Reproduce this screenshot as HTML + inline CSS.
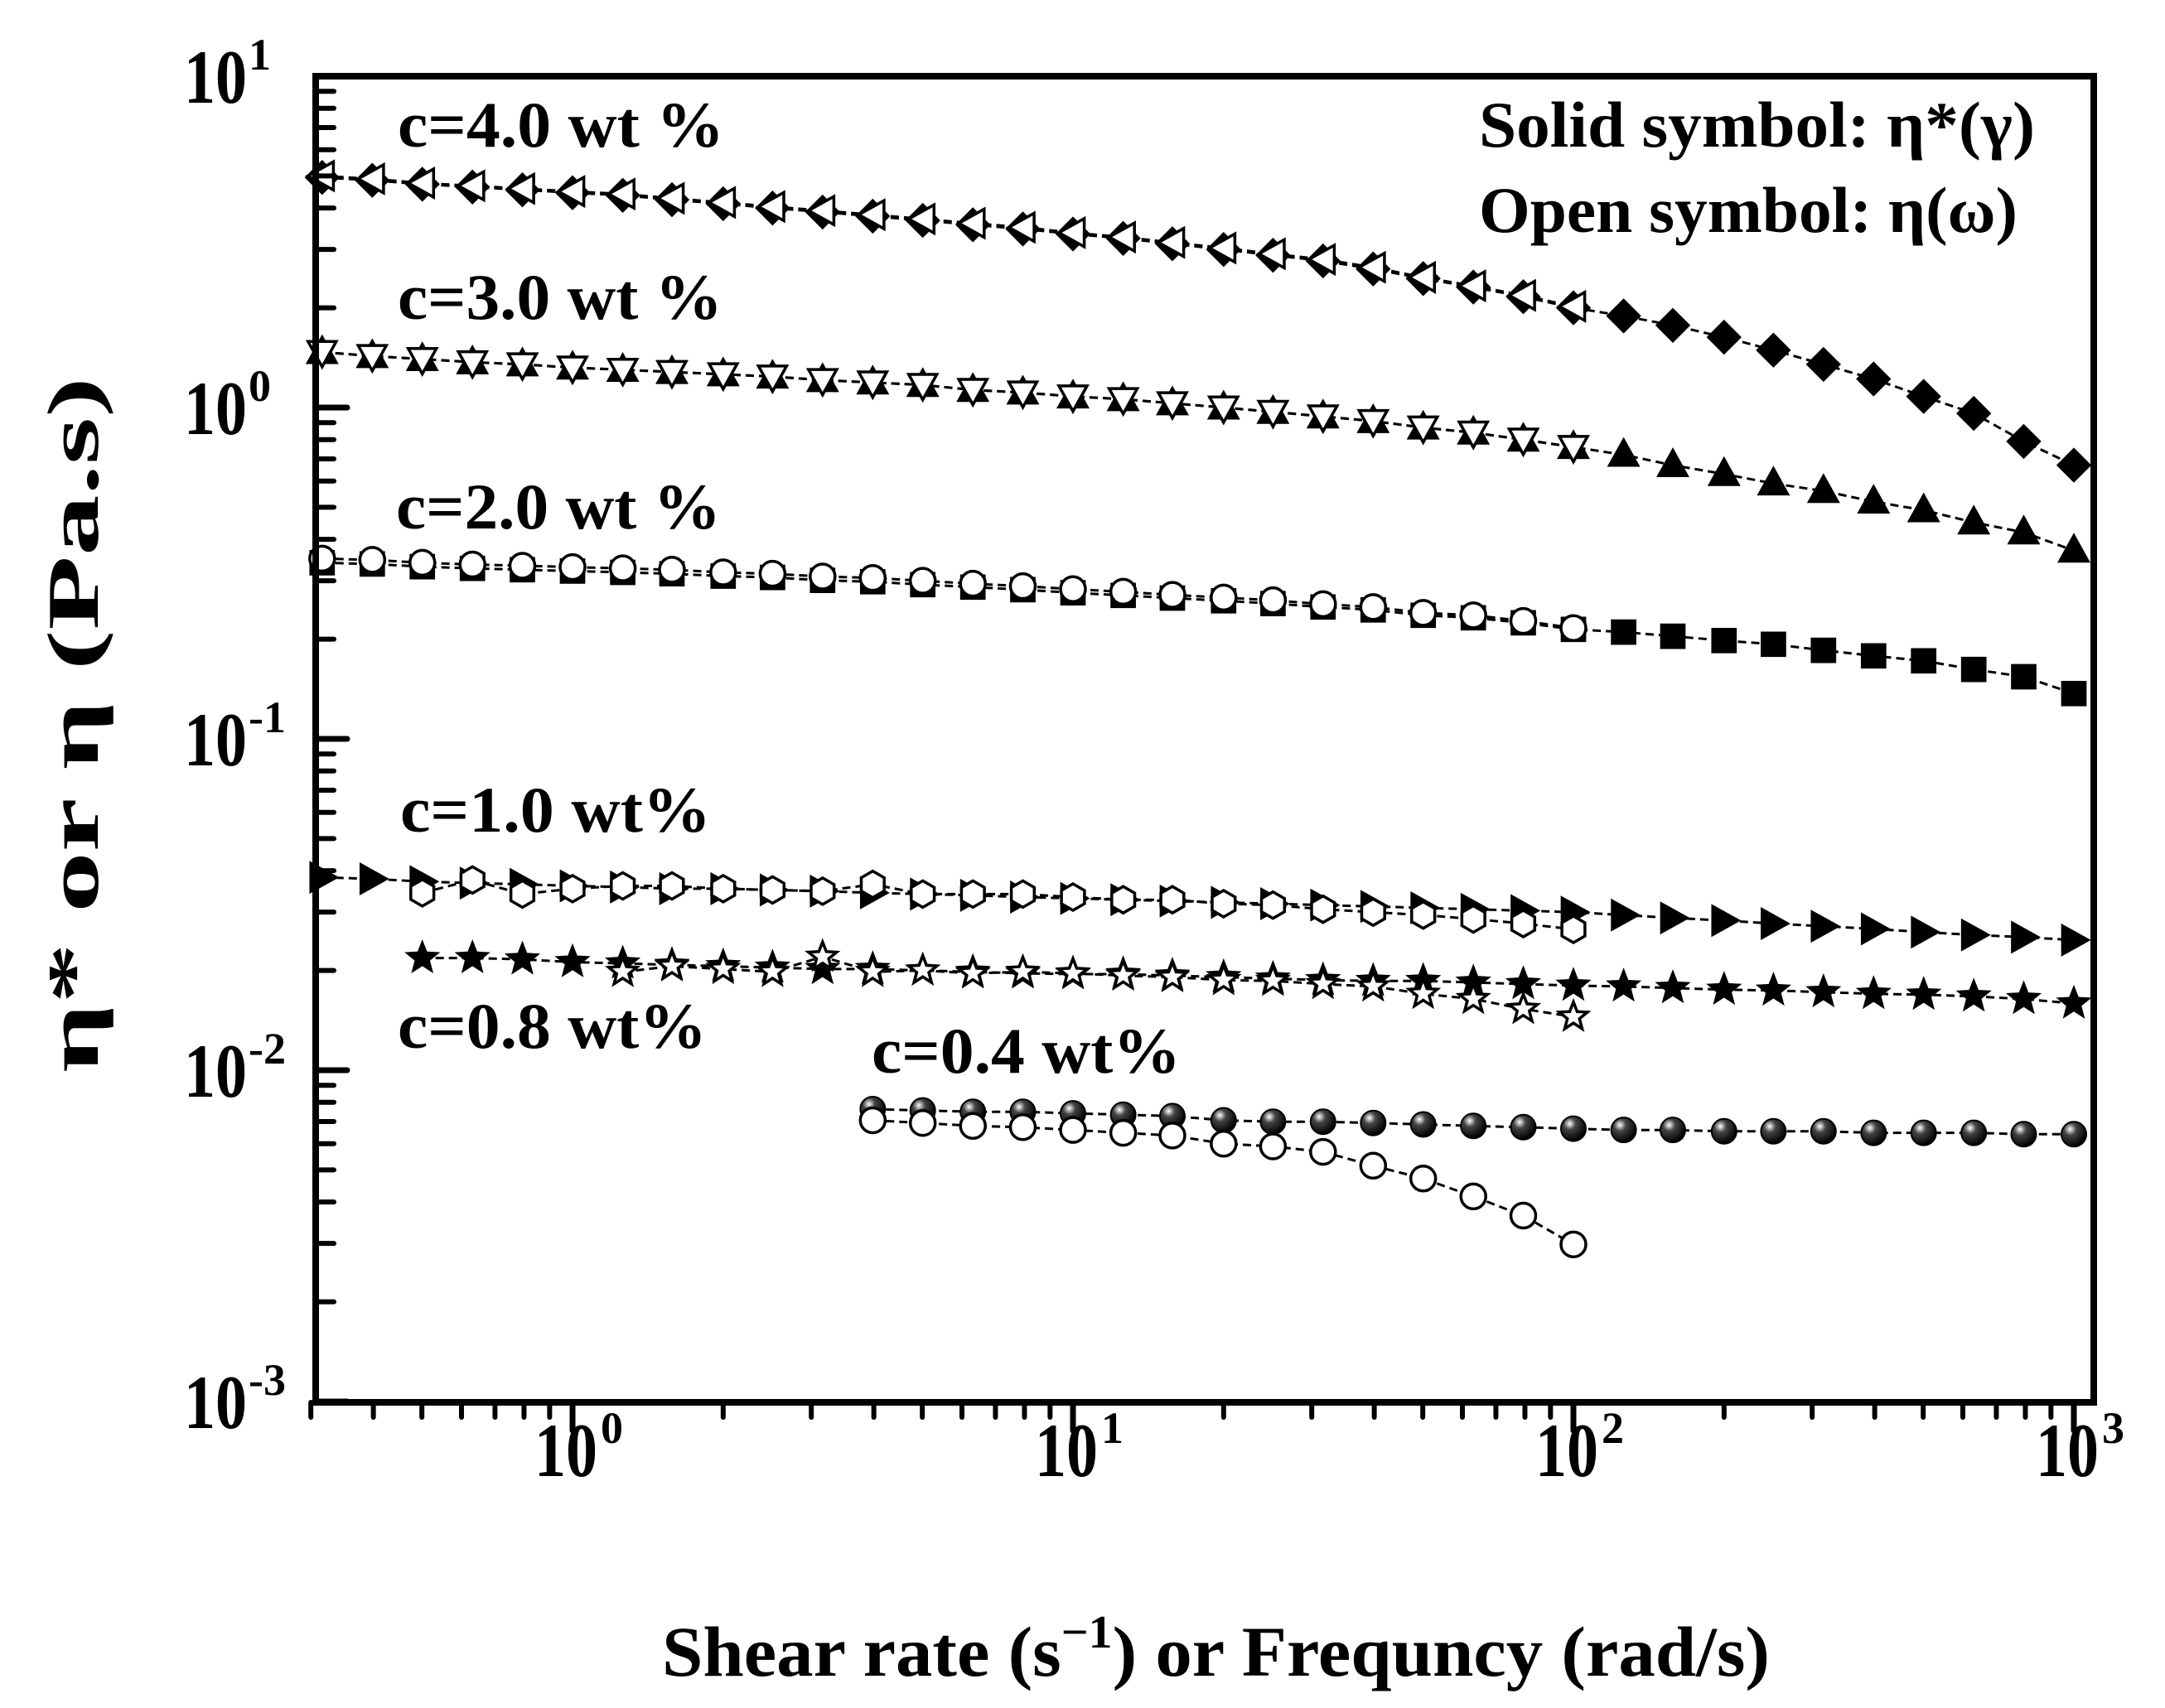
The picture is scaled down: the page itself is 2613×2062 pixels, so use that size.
<!DOCTYPE html>
<html><head><meta charset="utf-8"><style>
html,body{margin:0;padding:0;background:#fff;}
svg{display:block;font-family:"Liberation Serif","DejaVu Serif",serif;font-weight:bold;}
</style></head><body>
<svg id="chart" xmlns="http://www.w3.org/2000/svg" width="2613" height="2062" viewBox="0 0 2613 2062">
<defs>
<radialGradient id="ball" cx="0.35" cy="0.3" r="0.7"><stop offset="0" stop-color="#fff"/><stop offset="0.35" stop-color="#444"/><stop offset="1" stop-color="#000"/></radialGradient>
</defs>
<g id="series"></g>
<g id="axes"></g>
<g font-size="78">
<text x="480" y="177" textLength="394" lengthAdjust="spacingAndGlyphs">c=4.0 wt %</text>
<text x="480" y="385" textLength="392" lengthAdjust="spacingAndGlyphs">c=3.0 wt %</text>
<text x="478" y="638" textLength="392" lengthAdjust="spacingAndGlyphs">c=2.0 wt %</text>
<text x="483" y="1004" textLength="375" lengthAdjust="spacingAndGlyphs">c=1.0 wt%</text>
<text x="480" y="1265" textLength="373" lengthAdjust="spacingAndGlyphs">c=0.8 wt%</text>
<text x="1052" y="1295" textLength="373" lengthAdjust="spacingAndGlyphs">c=0.4 wt%</text>
<text x="1785" y="177" textLength="671" lengthAdjust="spacingAndGlyphs">Solid symbol: η*(γ)</text>
<text x="1785" y="280" textLength="650" lengthAdjust="spacingAndGlyphs">Open symbol: η(ω)</text>
</g>
<text x="799" y="2023" font-size="86" textLength="1337" lengthAdjust="spacingAndGlyphs">Shear rate (s<tspan font-size="56" dy="-34">−1</tspan><tspan dy="34">) or Frequncy (rad/s)</tspan></text>
<text transform="translate(118,875) rotate(-90)" text-anchor="middle" font-size="88" textLength="840" lengthAdjust="spacingAndGlyphs">η* or η (Pa.s)</text>
</svg>
<script>
const xFull = [0.316,0.398,0.501,0.631,0.794,1,1.26,1.58,2,2.51,3.16,3.98,5.01,6.31,7.94,10,12.6,15.8,20,25.1,31.6,39.8,50.1,63.1,79.4,100,126,158,200,251,316,398,501,631,794,1000];
const c4Open = [5.00,4.90,4.76,4.67,4.58,4.49,4.41,4.28,4.16,4.04,3.93,3.82,3.71,3.60,3.50,3.37,3.27,3.15,3.03,2.91,2.80,2.65,2.47,2.33,2.18,2.02];
const c4Solid = [4.95,4.85,4.72,4.63,4.54,4.45,4.37,4.24,4.12,4.00,3.89,3.78,3.67,3.56,3.46,3.34,3.24,3.12,3.00,2.88,2.77,2.62,2.45,2.31,2.16,2.00,1.89,1.77,1.63,1.49,1.35,1.22,1.08,0.96,0.79,0.67];
const c3Open = [1.47,1.43,1.40,1.37,1.35,1.32,1.30,1.28,1.26,1.24,1.21,1.19,1.17,1.13,1.11,1.08,1.06,1.03,1.00,0.97,0.94,0.91,0.87,0.84,0.80,0.76];
const c3Solid = [1.47,1.43,1.40,1.37,1.35,1.32,1.30,1.28,1.26,1.24,1.21,1.19,1.17,1.13,1.11,1.08,1.06,1.03,1.00,0.97,0.94,0.91,0.87,0.84,0.80,0.76,0.72,0.67,0.63,0.59,0.56,0.52,0.49,0.45,0.42,0.37];
const c2Open = [0.350,0.347,0.340,0.336,0.333,0.330,0.327,0.324,0.318,0.315,0.309,0.306,0.300,0.294,0.289,0.283,0.278,0.272,0.267,0.262,0.255,0.250,0.240,0.236,0.227,0.216];
const c2Solid = [0.340,0.337,0.331,0.327,0.324,0.321,0.318,0.315,0.310,0.307,0.301,0.298,0.292,0.287,0.282,0.276,0.271,0.266,0.261,0.256,0.250,0.245,0.236,0.232,0.224,0.214,0.210,0.204,0.198,0.193,0.185,0.178,0.172,0.162,0.154,0.137];
const c1Solid = [0.0382,0.0378,0.0371,0.0367,0.0364,0.0360,0.0357,0.0353,0.0353,0.0350,0.0347,0.0343,0.0340,0.0337,0.0333,0.0330,0.0327,0.0324,0.0321,0.0318,0.0315,0.0312,0.0309,0.0306,0.0303,0.0300,0.0294,0.0288,0.0283,0.0277,0.0272,0.0267,0.0261,0.0256,0.0252,0.0247];
const c1OpenX = [0.501,0.631,0.794,1,1.26,1.58,2,2.51,3.16,3.98,5.01,6.31,7.94,10,12.6,15.8,20,25.1,31.6,39.8,50.1,63.1,79.4,100];
const c1Open = [0.0343,0.0375,0.0340,0.0353,0.0360,0.0360,0.0353,0.0350,0.0347,0.0364,0.0340,0.0340,0.0340,0.0333,0.0327,0.0327,0.0318,0.0315,0.0306,0.0300,0.0294,0.0286,0.0277,0.0266];
const c08SolidX = [0.501,0.631,0.794,1,1.26,1.58,2,2.51,3.16,3.98,5.01,6.31,7.94,10,12.6,15.8,20,25.1,31.6,39.8,50.1,63.1,79.4,100,126,158,200,251,316,398,501,631,794,1000];
const c08Solid = [0.0218,0.0218,0.0216,0.0212,0.0210,0.0208,0.0206,0.0204,0.0202,0.0202,0.0200,0.0198,0.0196,0.0195,0.0195,0.0193,0.0191,0.0189,0.0187,0.0186,0.0186,0.0184,0.0182,0.0180,0.0179,0.0177,0.0175,0.0174,0.0172,0.0170,0.0169,0.0167,0.0164,0.0159];
const c08OpenX = [1.26,1.58,2,2.51,3.16,3.98,5.01,6.31,7.94,10,12.6,15.8,20,25.1,31.6,39.8,50.1,63.1,79.4,100];
const c08Open = [0.0198,0.0206,0.0202,0.0198,0.0220,0.0198,0.0200,0.0196,0.0198,0.0196,0.0193,0.0191,0.0187,0.0186,0.0182,0.0179,0.0170,0.0164,0.0153,0.0145];
const c04SolidX = [3.98,5.01,6.31,7.94,10,12.6,15.8,20,25.1,31.6,39.8,50.1,63.1,79.4,100,126,158,200,251,316,398,501,631,794,1000];
const c04Solid = [0.00763,0.00756,0.00749,0.00749,0.00741,0.00734,0.00727,0.00706,0.00699,0.00699,0.00693,0.00686,0.00679,0.00673,0.00666,0.00660,0.00660,0.00654,0.00654,0.00654,0.00647,0.00647,0.00647,0.00641,0.00641];
const c04OpenX = [3.98,5.01,6.31,7.94,10,12.6,15.8,20,25.1,31.6,39.8,50.1,63.1,79.4,100];
const c04Open = [0.00706,0.00693,0.00679,0.00673,0.00660,0.00647,0.00635,0.00600,0.00589,0.00567,0.00515,0.00471,0.00416,0.00364,0.00298];
const xTickLabels = ["0","1","2","3"];
const yTickLabels = ["1","0","-1","-2","-3"];

const NS="http://www.w3.org/2000/svg";
const X = v => 2503 + (Math.log10(v) - 3) * 604;
const Y = v => 92 + (1 - Math.log10(v)) * 400;
const ser = document.getElementById('series');
const axes = document.getElementById('axes');
function mk(tag, attrs, parent){const e=document.createElementNS(NS,tag);for(const k in attrs)e.setAttribute(k,attrs[k]);parent.appendChild(e);return e;}

function shapePath(type, r){
  const p=[];
  if(type==='left'){p.push([-r,0],[r*0.8,-r],[r*0.8,r]);}
  else if(type==='right'){p.push([r,0],[-r*0.8,-r],[-r*0.8,r]);}
  else if(type==='up'){p.push([0,-r*1.05],[r,r*0.75],[-r,r*0.75]);}
  else if(type==='down'){p.push([0,r*1.05],[r,-r*0.75],[-r,-r*0.75]);}
  else if(type==='diamond'){p.push([0,-r*1.1],[r*1.1,0],[0,r*1.1],[-r*1.1,0]);}
  else if(type==='square'){p.push([-r*0.85,-r*0.85],[r*0.85,-r*0.85],[r*0.85,r*0.85],[-r*0.85,r*0.85]);}
  else if(type==='hex'){for(let i=0;i<6;i++){const a=Math.PI/3*i+Math.PI/6;p.push([r*Math.cos(a),r*Math.sin(a)]);}}
  else if(type==='star'){for(let i=0;i<10;i++){const a=-Math.PI/2+Math.PI/5*i;const rr=i%2?r*0.45:r*1.05;p.push([rr*Math.cos(a),rr*Math.sin(a)]);}}
  return p;
}
function drawSeries(name, xs, ys, type, filled, r){
  const g = mk('g',{},ser);
  
  
  const pts = xs.slice(0, ys.length).map((x,i)=>X(x).toFixed(1)+','+Y(ys[i]).toFixed(1)).join(' ');
  const line = mk('polyline',{points:pts,fill:'none',stroke:'#000','stroke-width':3,'stroke-dasharray':'10 6'},g);
  
  
  ys.forEach((v,i)=>{
    const cx=X(xs[i]), cy=Y(v);
    let m;
    if(type==='circle'){m=mk('circle',{cx:cx,cy:cy,r:r,fill:'#fff',stroke:'#000','stroke-width':3.5},g);}
    else if(type==='ball'){m=mk('circle',{cx:cx,cy:cy,r:r,fill:'url(#ball)',stroke:'#000','stroke-width':2},g);}
    else{
      const p=shapePath(type,r).map(q=>(cx+q[0]).toFixed(1)+','+(cy+q[1]).toFixed(1)).join(' ');
      m=mk('polygon',{points:p,fill:filled?'#000':'#fff',stroke:'#000','stroke-width':3.5,'stroke-linejoin':'miter'},g);
    }
    
    
  });
}
drawSeries('c4-solid-diamond', xFull, c4Solid, 'diamond', true, 17);
drawSeries('c4-open-triangle', xFull, c4Open, 'left', false, 17);
drawSeries('c3-solid-triangle', xFull, c3Solid, 'up', true, 17);
drawSeries('c3-open-triangle', xFull, c3Open, 'down', false, 17);
drawSeries('c2-solid-square', xFull, c2Solid, 'square', true, 16);
drawSeries('c2-open-circle', xFull, c2Open, 'circle', false, 15);
drawSeries('c1-solid-triangle', xFull, c1Solid, 'right', true, 17);
drawSeries('c1-open-hexagon', c1OpenX, c1Open, 'hex', false, 16);
drawSeries('c08-solid-star', c08SolidX, c08Solid, 'star', true, 17);
drawSeries('c08-open-star', c08OpenX, c08Open, 'star', false, 17);
drawSeries('c04-solid-ball', c04SolidX, c04Solid, 'ball', true, 15);
drawSeries('c04-open-circle', c04OpenX, c04Open, 'circle', false, 15);

const frame = mk('rect',{x:381,y:92,width:2146,height:1601,fill:'none',stroke:'#000','stroke-width':8},axes);


for(let d=-1; d<=3; d++){
  for(let k=1;k<=9;k++){
    const v=k*Math.pow(10,d);
    if(v<0.3||v>1000) continue;
    const x=X(v), major=(k===1);
    const t=mk('line',{x1:x,x2:x,y1:1693,y2:1693+(major?34:18),stroke:'#000','stroke-width':major?7:6,'stroke-linecap':'round'},axes);
    
    
  }
}
xTickLabels.forEach((lab,i)=>{
  const x=X(Math.pow(10,+lab));
  const t=mk('text',{x:x-46,y:1782,'font-size':92,'font-weight':'bold',textLength:76,lengthAdjust:'spacingAndGlyphs'},axes);
  t.textContent='10';
  
  
  const s=mk('text',{x:x+34,y:1742,'font-size':54},axes); s.textContent=lab;
  
  
});
for(let d=-3; d<=1; d++){
  for(let k=1;k<=9;k++){
    const v=k*Math.pow(10,d);
    if(v>10) continue;
    const y=Y(v), major=(k===1);
    const t=mk('line',{x1:381,x2:381+(major?38:22),y1:y,y2:y,stroke:'#000','stroke-width':major?7:6,'stroke-linecap':'round'},axes);
    
    
  }
}
yTickLabels.forEach(lab=>{
  const y=Y(Math.pow(10,+lab));
  const t=mk('text',{x:222,y:y+32,'font-size':92,textLength:76,lengthAdjust:'spacingAndGlyphs'},axes);
  t.textContent='10';
  
  
  const s=mk('text',{x:300,y:y-8,'font-size':54},axes); s.textContent=lab;
  
  
});
</script>
</body></html>
